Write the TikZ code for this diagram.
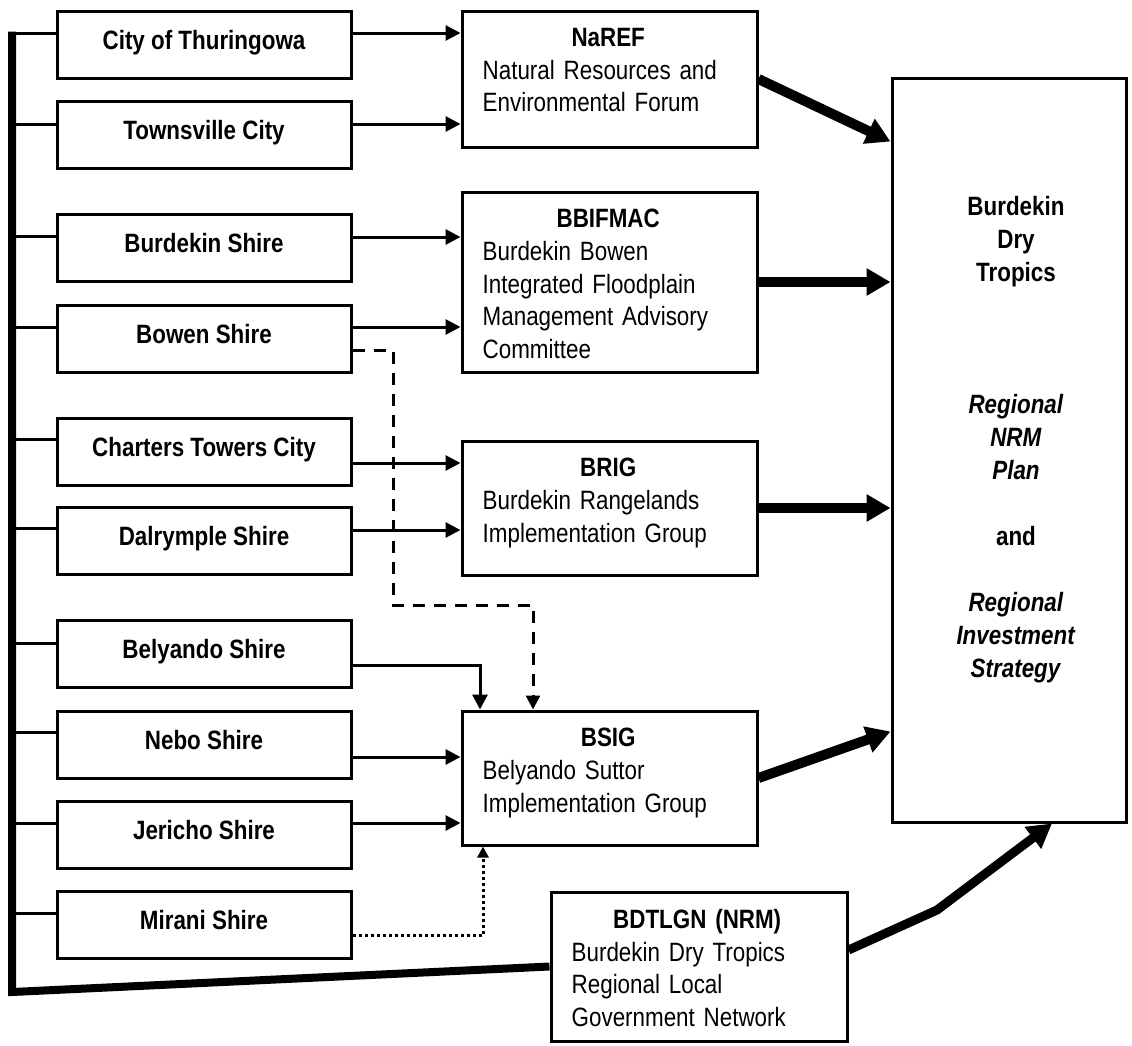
\documentclass[tikz,border=0pt]{standalone}
\usepackage{fontspec}
\setmainfont{Liberation Sans}[FakeStretch=0.845]
\usetikzlibrary{arrows.meta}
\begin{document}
\begin{tikzpicture}[x=1pt,y=-1pt,
  lbox/.style={draw, line width=3pt, minimum width=294pt, minimum height=67pt, inner sep=0pt,
     font=\fontsize{26.5pt}{32.7pt}\selectfont\bfseries, text height=19pt, text depth=10pt},
  mbox/.style={draw, line width=3pt, inner sep=0pt},
  btext/.style={anchor=north west, inner sep=0pt, text width=251pt, align=left,
     font=\fontsize{26.5pt}{32.7pt}\selectfont},
  conn/.style={line width=3pt},
  arr/.style={conn, -{Triangle[length=15pt,width=15pt]}},
  dsh/.style={conn, dash pattern=on 12pt off 9pt, -{Triangle[length=14pt,width=14pt]}},
  dts/.style={conn, dash pattern=on 3pt off 3pt, -{Triangle[length=11pt,width=11pt]}},
  bigarr/.style={line width=10pt, -{Triangle[length=24pt,width=26pt]}},
  trunkline/.style={line width=8pt, line join=miter}
]
\fill[white] (0,0) rectangle (1132,1045);
\useasboundingbox (0,0) rectangle (1132,1045);

% left column
\node[lbox] (thur) at (204,45) {City of Thuringowa};
\node[lbox] (town) at (204,135) {Townsville City};
\node[lbox] (burd) at (204,248) {Burdekin Shire};
\node[lbox] (bowen) at (204,338.5) {Bowen Shire};
\node[lbox] (chart) at (204,451.5) {Charters Towers City};
\node[lbox] (dalr) at (204,541) {Dalrymple Shire};
\node[lbox] (bely) at (204,654) {Belyando Shire};
\node[lbox] (nebo) at (204,744.5) {Nebo Shire};
\node[lbox] (jeri) at (204,835) {Jericho Shire};
\node[lbox] (mira) at (204,924.5) {Mirani Shire};

% middle boxes
\node[mbox, minimum width=295pt, minimum height=136pt] (naref) at (609.5,79) {};
\node[btext] (naref-t) at ([xshift=22pt,yshift=-18.5pt]naref.north west)
  {\makebox[\hsize]{\bfseries NaREF}\\Natural Resources and\\Environmental Forum};
\node[mbox, minimum width=295pt, minimum height=180pt] (bbif) at (609.5,282) {};
\node[btext] (bbif-t) at ([xshift=22pt,yshift=-18.5pt]bbif.north west)
  {\makebox[\hsize]{\bfseries BBIFMAC}\\Burdekin Bowen\\Integrated Floodplain\\Management Advisory\\Committee};
\node[mbox, minimum width=295pt, minimum height=134pt] (brig) at (609.5,508) {};
\node[btext] (brig-t) at ([xshift=22pt,yshift=-18.5pt]brig.north west)
  {\makebox[\hsize]{\bfseries BRIG}\\Burdekin Rangelands\\Implementation Group};
\node[mbox, minimum width=295pt, minimum height=134pt] (bsig) at (609.5,778) {};
\node[btext] (bsig-t) at ([xshift=22pt,yshift=-18.5pt]bsig.north west)
  {\makebox[\hsize]{\bfseries BSIG}\\Belyando Suttor\\Implementation Group};
\node[mbox, minimum width=296pt, minimum height=149pt] (bd) at (699,966.5) {};
\node[btext] (bd-t) at ([xshift=22pt,yshift=-18.5pt]bd.north west)
  {\makebox[\hsize]{\bfseries BDTLGN (NRM)}\\Burdekin Dry Tropics\\Regional Local\\Government Network};

% right box
\node[mbox, minimum width=234pt, minimum height=744pt] (rb) at (1009,450) {};
\node[anchor=north, inner sep=0pt, align=center, font=\fontsize{26.5pt}{33pt}\selectfont\bfseries]
  (rb-t) at ([xshift=7pt,yshift=-119.5pt]rb.north)
  {Burdekin\\Dry\\Tropics\\[99pt]\textit{Regional}\\\textit{NRM}\\\textit{Plan}\\[33pt]and\\[33pt]%
   \textit{Regional}\\\textit{Investment}\\\textit{Strategy}};

% trunk
\coordinate (ttop) at (12,31.5);
\coordinate (tbot) at (12,992);
\draw[trunkline] (ttop) -- (tbot) -- (bd.west);

% branches from trunk
\foreach \n/\s in {thur/12, town/11, burd/12, bowen/11.5, chart/12.5, dalr/13, bely/11, nebo/12.5, jeri/12, mira/11.5} {
  \path ([yshift=\s pt]\n.west) coordinate (\n-t);
  \draw[conn] (\n-t) -- (\n-t -| ttop);
}

% arrows left -> middle
\foreach \n/\s/\m in {thur/12/naref, town/11/naref, burd/11/bbif, bowen/11.5/bbif, chart/-11.5/brig, dalr/11/brig, nebo/-12.5/bsig, jeri/12/bsig} {
  \path ([yshift=\s pt]\n.east) coordinate (\n-a);
  \draw[arr] (\n-a) -- (\n-a -| \m.west);
}

% Belyando bent arrow
\path ([yshift=-11pt]bely.east) coordinate (bely-a);
\coordinate (bsig-in1) at ([xshift=-129.5pt]bsig.north);
\draw[arr] (bely-a) -| (bsig-in1);

% dashed Bowen -> BSIG
\path ([yshift=-11.5pt]bowen.east) coordinate (bowen-d);
\coordinate (dashbend) at (393,605);
\coordinate (bsig-in2) at ([xshift=-76.5pt]bsig.north);
\draw[dsh] (bowen-d) -| (dashbend) -| (bsig-in2);

% dotted Mirani -> BSIG
\path ([yshift=-10.5pt]mira.east) coordinate (mira-d);
\coordinate (bsig-in3) at ([xshift=-126.5pt]bsig.south);
\draw[dts] (mira-d) -| (bsig-in3);

% thick arrows to right box
\coordinate (rb-a) at ([yshift=-65pt]rb.north west);
\coordinate (rb-d) at ([yshift=-655pt]rb.north west);
\coordinate (rb-e) at ([xshift=43pt]rb.south);
\draw[bigarr] (naref.east) -- (rb-a);
\draw[bigarr] (bbif.east) -- (bbif.east -| rb.west);
\draw[bigarr] (brig.east) -- (brig.east -| rb.west);
\draw[bigarr] (bsig.east) -- (rb-d);
\coordinate (bdbend) at (937,910);
\draw[bigarr, line width=9pt] ([yshift=16.5pt]bd.east) -- (bdbend) -- (rb-e);
\end{tikzpicture}
\end{document}
